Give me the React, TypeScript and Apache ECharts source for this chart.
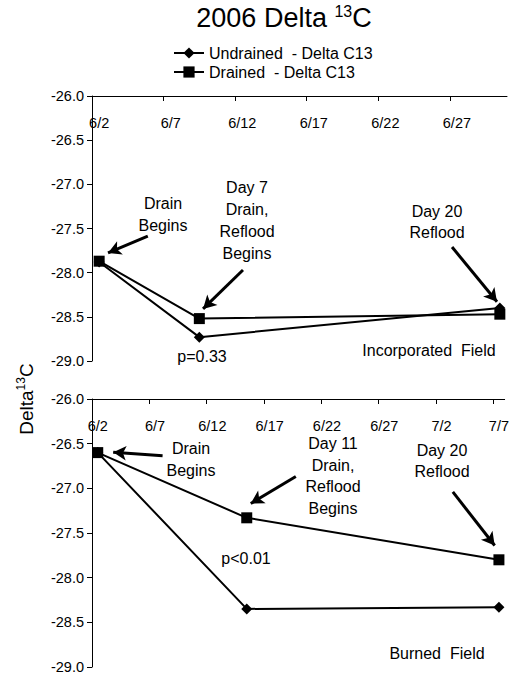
import React, { useEffect, useRef } from "react";
import * as echarts from "echarts";

// Days since 6/2 (points sit in the middle of their day)
const topDays = [0, 7, 28];
const topUndrained = [-27.88, -28.73, -28.4];
const topDrained = [-27.87, -28.52, -28.47];

const bottomDays = [0, 13, 35];
const bottomUndrained = [-26.6, -28.35, -28.33];
const bottomDrained = [-26.6, -27.33, -27.8];

const topTickLabels = ["6/2", "6/7", "6/12", "6/17", "6/22", "6/27"];
const bottomTickLabels = ["6/2", "6/7", "6/12", "6/17", "6/22", "6/27", "7/2", "7/7"];
const topDayCount = 29;
const bottomDayCount = 36;

const legendNames = ["Undrained  - Delta C13", "Drained  - Delta C13"];

// Arrow annotations in data coordinates [day, value]
const topArrows = [
  [[3.9, -27.585], [1.12, -27.777]],
  [[10.55, -27.97], [7.76, -28.41]],
  [[25.16, -27.71], [28.3, -28.33]],
];
const bottomArrows = [
  [[6.16, -26.635], [1.85, -26.597]],
  [[17.78, -26.868], [13.85, -27.17]],
  [[31.48, -27.04], [35.13, -27.64]],
];

const FONT = "'Liberation Sans', Arial, sans-serif";

function pts(days: number[], vals: number[]) {
  return days.map((d, i) => [d + 0.5, vals[i]]);
}

function arrows(list: number[][][]) {
  return list.map(([a, b]) => [{ coord: a }, { coord: b }]);
}

export default function App() {
  const ref = useRef<HTMLDivElement>(null);
  useEffect(() => {
    if (!ref.current) return;
    const chart = echarts.init(ref.current, null, { renderer: "svg" });
    const yAxisBase = (gridIndex: number) => ({
      type: "value",
      gridIndex,
      min: -29,
      max: -26,
      interval: 0.5,
      axisLine: { show: true, lineStyle: { color: "#000", width: 1 } },
      axisTick: { show: true, inside: false, length: 5, lineStyle: { color: "#000" } },
      axisLabel: {
        color: "#000",
        fontSize: 14.5,
        fontFamily: FONT,
        margin: 8,
        formatter: (v: number) => v.toFixed(1),
      },
      splitLine: { show: false },
    });
    const xAxisBase = (gridIndex: number, count: number, labels: string[]) => ({
      type: "value",
      gridIndex,
      position: "top",
      min: 0,
      max: count,
      axisLine: { show: true, onZero: false, lineStyle: { color: "#000", width: 1 } },
      axisTick: {
        show: true,
        inside: true,
        length: 5,
        lineStyle: { color: "#000" },
        customValues: labels.map((_, i) => i * 5),
      },
      axisLabel: {
        inside: true,
        color: "#000",
        fontSize: 14.5,
        fontFamily: FONT,
        margin: 19,
        customValues: labels.map((_, i) => i * 5 + 0.5),
        formatter: (v: number) => labels[Math.round((v - 0.5) / 5)] ?? "",
      },
      splitLine: { show: false },
    });
    const lineSeries = (
      name: string,
      idx: number,
      data: number[][],
      symbol: string,
      symbolSize: number,
      arrowList?: number[][][]
    ) => ({
      type: "line",
      name,
      xAxisIndex: idx,
      yAxisIndex: idx,
      data,
      symbol,
      symbolSize,
      clip: false,
      lineStyle: { color: "#000", width: 2 },
      itemStyle: { color: "#000" },
      emphasis: { disabled: true },
      z: symbol === "rect" ? 3 : 2,
      markLine: arrowList
        ? {
            silent: true,
            symbol: ["none", "arrow"],
            symbolSize: [11, 13],
            label: { show: false },
            lineStyle: { color: "#000", width: 3, type: "solid" },
            data: arrows(arrowList),
          }
        : undefined,
    });

    const txt = (text: string, x: number, y: number, lineHeight = 22, fontSize = 16) => ({
      type: "text",
      x,
      y,
      style: {
        text,
        fill: "#000",
        font: `${fontSize}px ${FONT}`,
        align: "center",
        verticalAlign: "middle",
        lineHeight,
      },
    });

    chart.setOption({
      animation: false,
      backgroundColor: "#fff",
      legend: {
        orient: "vertical",
        left: 173,
        top: 45,
        padding: 0,
        itemWidth: 30,
        itemHeight: 14,
        itemGap: 3,
        data: legendNames,
        textStyle: { color: "#000", fontSize: 16, fontFamily: FONT },
        selectedMode: false,
      },
      grid: [
        { left: 92, top: 96, width: 415, height: 265 },
        { left: 92, top: 399, width: 415, height: 268 },
      ],
      xAxis: [
        xAxisBase(0, topDayCount, topTickLabels),
        xAxisBase(1, bottomDayCount, bottomTickLabels),
      ],
      yAxis: [yAxisBase(0), yAxisBase(1)],
      series: [
        lineSeries(legendNames[0], 0, pts(topDays, topUndrained), "diamond", 11),
        lineSeries(legendNames[1], 0, pts(topDays, topDrained), "rect", 11, topArrows),
        lineSeries(legendNames[0], 1, pts(bottomDays, bottomUndrained), "diamond", 11),
        lineSeries(legendNames[1], 1, pts(bottomDays, bottomDrained), "rect", 11, bottomArrows),
      ],
      graphic: [
        {
          type: "text",
          x: 284,
          y: 18,
          style: {
            text: "{a|2006 Delta }{s|13}{a|C}",
            align: "center",
            verticalAlign: "middle",
            rich: {
              a: { fontSize: 27, fontFamily: FONT, fill: "#000", color: "#000", lineHeight: 30 },
              s: { fontSize: 16, fontFamily: FONT, fill: "#000", color: "#000", verticalAlign: "top", lineHeight: 30 },
            },
          },
        },
        {
          type: "text",
          x: 26,
          y: 399,
          rotation: Math.PI / 2,
          style: {
            text: "{a|Delta}{s|13}{a|C}",
            align: "center",
            verticalAlign: "middle",
            rich: {
              a: { fontSize: 19, fontFamily: FONT, fill: "#000", color: "#000", lineHeight: 22 },
              s: { fontSize: 12, fontFamily: FONT, fill: "#000", color: "#000", verticalAlign: "top", lineHeight: 22 },
            },
          },
        },
        txt("Drain\nBegins", 163, 214),
        txt("Day 7\nDrain,\nReflood\nBegins", 247, 220),
        txt("Day 20\nReflood", 437, 222, 21),
        txt("p=0.33", 202, 356),
        txt("Incorporated  Field", 429, 350),
        txt("Drain\nBegins", 191, 459),
        txt("Day 11\nDrain,\nReflood\nBegins", 333, 476, 21.7),
        txt("Day 20\nReflood", 442, 461, 21.5),
        txt("p<0.01", 246, 558),
        txt("Burned  Field", 437, 653),
      ],
    });
    return () => chart.dispose();
  }, []);
  return (
    <div
      ref={ref}
      style={{ position: "absolute", left: 0, top: 0, width: 512, height: 678 }}
    />
  );
}
